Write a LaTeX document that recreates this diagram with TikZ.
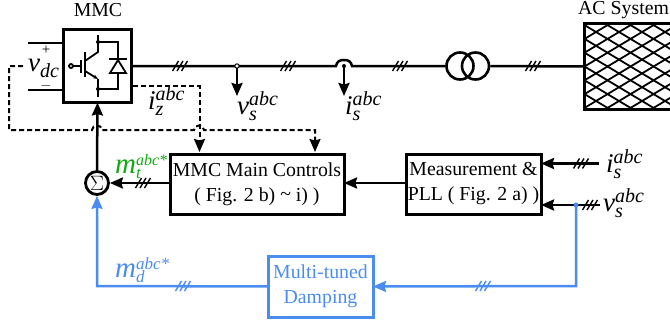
\documentclass[tikz,border=0pt]{standalone}
\usepackage{fontspec}
\setmainfont{Liberation Serif}
\usetikzlibrary{arrows.meta,calc}
\definecolor{bl}{HTML}{4A8CF0}
\definecolor{gr}{HTML}{12A812}
\newcommand{\qty}[3]{{\fontsize{27}{27}\selectfont\itshape #1}\rlap{\raisebox{-6pt}{\fontsize{20}{20}\selectfont\itshape #2}}\raisebox{9pt}{\fontsize{20}{20}\selectfont\itshape #3}}
\tikzset{
 x=1pt,y=-1pt,
 txt/.style={font=\fontsize{19.8}{25}\selectfont,align=center,inner sep=0pt},
 lab/.style={inner sep=0pt,anchor=west},
 box/.style={draw,line width=3pt,inner sep=0pt,outer sep=0pt,txt},
 wire/.style={line width=2.5pt},
 tip/.style={-{Stealth[length=13pt,width=11pt,inset=1.5pt]}},
 dash line/.style={line width=2pt,dash pattern=on 5pt off 3pt},
 pics/tri/.style={code={
  \foreach \d in {-4.5,0,4.5}{\draw[line width=1.4pt] (\d-3,5) -- (\d+3,-5);}
 }}
}
\begin{document}
\begin{tikzpicture}
\useasboundingbox (0,0) rectangle (670,324);
% boxes
\node[box,minimum width=68pt,minimum height=73pt] (mmc) at (97.5,66) {};
\node[txt] (mmclab) at (98,10) {MMC};
\node[box,minimum width=174pt,minimum height=60pt] (main) at (257,184) {MMC Main Controls\\( Fig. 2 b) \raisebox{1pt}{\textasciitilde} i) )};
\node[box,minimum width=135pt,minimum height=60pt] (meas) at (473.5,184) {Measurement \&\\PLL ( Fig. 2 a) )};
\node[box,draw=bl,text=bl,minimum width=105pt,minimum height=61pt] (damp) at (320.5,286.5) {Multi-tuned\\Damping};
\node[draw,line width=2.8pt,circle,minimum size=23pt,inner sep=0pt,font=\fontsize{20}{20}\selectfont] (sum) at (97,183) {$\Sigma$};
\node[minimum width=90pt,minimum height=86pt,anchor=west,inner sep=0pt,outer sep=0pt] (ac) at (584.5,66.5) {};
\node[txt,anchor=west] (aclab) at (578,10) {AC System};
\begin{scope}
 \clip (ac.south west) rectangle (ac.north east);
 \foreach \i in {0,...,12}{
  \draw[line width=1.8pt] (443+\i*23,23) -- ++(145,87);
  \draw[line width=1.8pt] (443+\i*23,110) -- ++(145,-87);
 }
\end{scope}
\draw[line width=3pt] (ac.south west) rectangle (ac.north east);
% transformer
\node[draw,circle,line width=2.6pt,minimum size=27pt,inner sep=0pt] (t1) at (460,66) {};
\node[draw,circle,line width=2.6pt,minimum size=27pt,inner sep=0pt] (t2) at (475.5,66) {};
% DC terminals
\coordinate (dcp) at (28,43); \coordinate (dcn) at (28,90);
\draw[wire] (dcp) -- (dcp-|mmc.west);
\draw[wire] (dcn) -- (dcn-|mmc.west);
\node[font=\fontsize{15}{15}\selectfont,inner sep=0pt] (plus) at (46,50) {+};
\node[font=\fontsize{15}{15}\selectfont,inner sep=0pt] (minus) at (46,86) {$-$};
\node[lab] (vdc) at (28,68) {{\fontsize{27}{27}\selectfont\itshape v}\raisebox{-6pt}{\fontsize{20}{20}\selectfont\itshape dc}};
% IGBT
\begin{scope}[line width=1.8pt]
 \coordinate (gc) at (71,66);
 \draw (gc) circle (2);
 \draw (73,66) -- (81,66);
 \draw[line width=2.2pt] (81,60) -- (81,73);
 \draw[line width=2.2pt] (85,52) -- (85,77);
 \draw (85,61) -- (98,52) -- (98,35);
 \draw[-{Stealth[length=5pt,width=4pt]}] (85,71) -- (98,79);
 \draw (98,79) -- (98,97);
 \draw (98,42) -- (118,42) -- (118,59);
 \draw[line width=2.2pt] (109,59) -- (127,59);
 \draw (118,60) -- (110,73) -- (126,73) -- cycle;
 \draw (118,73) -- (118,89) -- (98,89);
 \fill (98,42) circle (2); \fill (98,89) circle (2);
\end{scope}
% AC line
\coordinate (jv) at (237,66);
\coordinate (ji) at (344,66);
\draw[wire] (mmc.east|-jv) -- (jv) -- (336,66) .. controls (337,61) and (340,60) .. (344,60) .. controls (348,60) and (351,61) .. (352,66) -- (t1.west);
\draw[wire] (t2.east) -- (ac.west);
\draw[wire,tip] (jv) -- (237,96);
\draw[wire,tip] (ji) -- (344,96);
\filldraw[fill=white,draw=black,line width=1pt] (jv) circle (2.2);
\fill (ji) circle (2);
\foreach \x in {180,288,400,533}{\pic at (\x,66) {tri};}
% labels
\node[lab] (lvs) at (237,106) {\qty{v}{s}{abc}};
\node[lab] (lis) at (345,106) {\qty{i}{s}{abc}};
\node[lab] (liz) at (148,101) {\qty{i}{z}{abc}};
% dashed
\coordinate (dA) at (23,66);
\coordinate (dB) at (9,130);
\coordinate (dC) at (133,86);
\draw[dash line,tip] (dA) -- (9,66) -- (dB) -- (92,130) .. controls (92,124) and (102,124) .. (102,130) -- (194,130) .. controls (194,124) and (204,124) .. (204,130) -- (315,130) -- (315,152);
\draw[dash line,tip] (dC) -- (199.5,86) -- (199.5,152);
% control
\draw[wire,tip] (sum.north) -- (mmc.south);
\draw[wire,tip] (main.west|-sum) -- (sum.east);
\pic at (143,183) {tri};
\node[lab,text=gr] (lmt) at (115,167) {{\fontsize{29}{29}\selectfont\itshape m}\rlap{\raisebox{-5pt}{\fontsize{17}{17}\selectfont\itshape t}}\raisebox{8pt}{\fontsize{16}{16}\selectfont\itshape abc*}};
\draw[wire,tip] (meas.west|-sum) -- (main.east|-sum);
\coordinate (is0) at (599,163.5);
\coordinate (vs0) at (600,205);
\coordinate (jb) at (576,205);
\draw[wire,tip] (is0) -- (is0-|meas.east);
\draw[wire,tip] (vs0) -- (vs0-|meas.east);
\pic at (581,163.5) {tri};
\pic at (590,205) {tri};
\node[lab] (lis2) at (606,164) {\qty{i}{s}{abc}};
\node[lab] (lvs2) at (603,203) {\qty{v}{s}{abc}};
% blue
\begin{scope}[draw=bl,fill=bl,text=bl,color=bl]
\draw[wire,draw=bl,tip] (jb) -- (576,286) -- (damp.east);
\fill[bl] (jb) circle (2.5);
\draw[wire,draw=bl,tip] (damp.west) -- (97,286) -- (sum.south);
\pic[draw=bl,color=bl] at (183,286) {tri};
\pic[draw=bl,color=bl] at (483,286) {tri};
\node[lab,text=bl] (lmd) at (115,270) {{\fontsize{29}{29}\selectfont\itshape m}\rlap{\raisebox{-5pt}{\fontsize{17}{17}\selectfont\itshape d}}\raisebox{8pt}{\fontsize{17}{17}\selectfont\itshape abc*}};
\end{scope}
\end{tikzpicture}
\end{document}
